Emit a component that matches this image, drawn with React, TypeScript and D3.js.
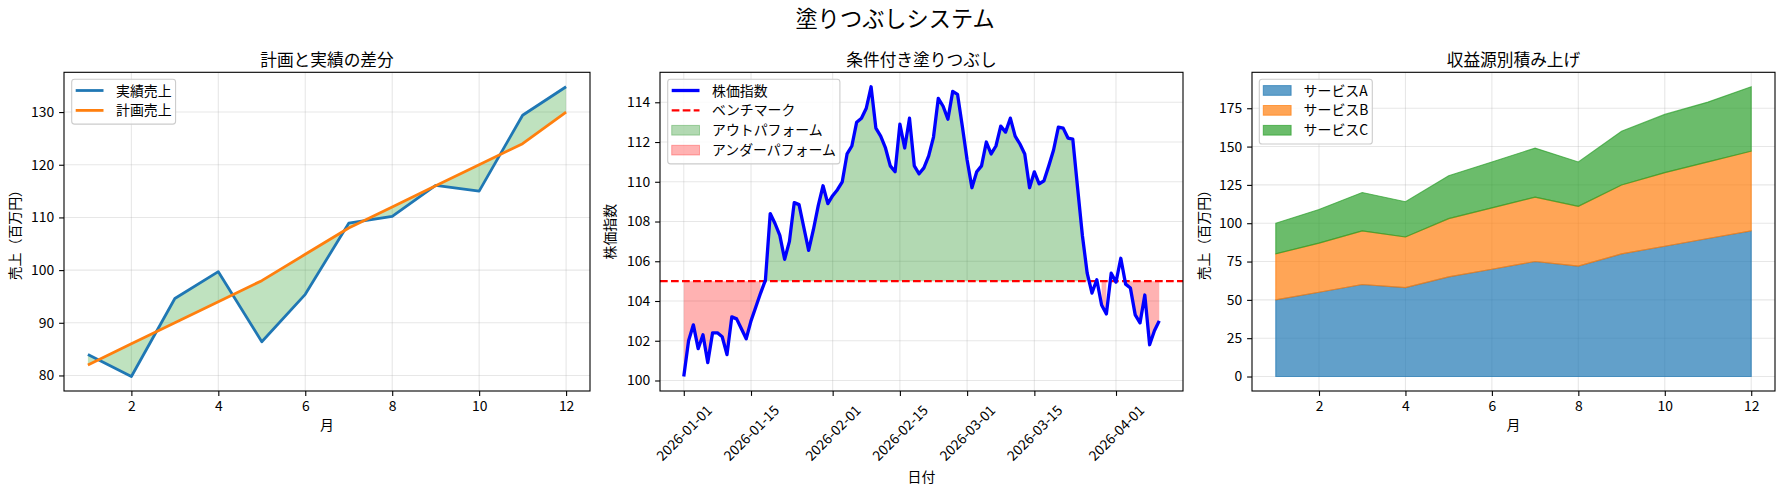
'use client'

import { useEffect, useRef } from 'react'
import * as d3 from 'd3'

// left: plan vs actual
const months = [1, 2, 3, 4, 5, 6, 7, 8, 9, 10, 11, 12]
const actualSales = [84.0, 79.8, 94.6, 99.7, 86.4, 95.4, 108.9, 110.2, 116.1, 115.0, 129.4, 134.8]
const plannedSales = [82, 86, 90, 94, 98, 103, 108, 112, 116, 120, 124, 130]
const salesTicks = [80, 90, 100, 110, 120, 130]
const monthTicks = [2, 4, 6, 8, 10, 12]

// middle: conditional fill
const startDate = '2026-01-01'
const benchmark = 105
const stockIndex = [
  100.2, 102.0, 102.8, 101.6, 102.3, 100.9, 102.4, 102.4, 102.2, 101.3,
  103.2, 103.1, 102.6, 102.1, 103.0, 103.7, 104.4, 105.05, 108.4, 107.9,
  107.3, 106.1, 107.0, 108.95, 108.85, 107.7, 106.55, 107.6, 108.8, 109.8,
  108.9, 109.3, 109.6, 110.0, 111.4, 111.8, 113.0, 113.2, 113.7, 114.78,
  112.7, 112.3, 111.7, 110.8, 110.5, 112.9, 111.7, 113.2, 110.8, 110.4,
  110.7, 111.3, 112.25, 114.2, 113.8, 113.15, 114.55, 114.4, 112.8, 111.1,
  109.7, 110.5, 110.8, 112.0, 111.4, 111.8, 112.8, 112.5, 113.2, 112.3,
  111.9, 111.4, 109.7, 110.5, 109.9, 110.05, 110.8, 111.6, 112.75, 112.7,
  112.2, 112.15, 109.7, 107.3, 105.4, 104.4, 105.07, 103.8, 103.35, 105.4,
  104.95, 106.15, 104.85, 104.65, 103.3, 102.9, 104.3, 101.8, 102.5, 103.0,
]
const indexTicks = [100, 102, 104, 106, 108, 110, 112, 114]
const dateTicks = ['2026-01-01', '2026-01-15', '2026-02-01', '2026-02-15', '2026-03-01', '2026-03-15', '2026-04-01']

// right: stacked revenue
const serviceA = [50, 55, 60, 58, 65, 70, 75, 72, 80, 85, 90, 95]
const serviceB = [30, 32, 35, 33, 38, 40, 42, 39, 45, 48, 50, 52]
const serviceC = [20, 22, 25, 23, 28, 30, 32, 29, 35, 38, 39, 42]
const stackTicks = [0, 25, 50, 75, 100, 125, 150, 175]

const FONT = '"Noto Sans CJK JP", "DejaVu Sans", sans-serif'
const TOP = 72.3
const BOTTOM = 391
const FS = 13.9

const pad = (lo: number, hi: number): [number, number] => {
  const r = hi - lo
  return [lo - 0.05 * r, hi + 0.05 * r]
}

export default function App() {
  const svgRef = useRef<SVGSVGElement>(null)

  useEffect(() => {
    if (!svgRef.current) return
    const svg = d3.select(svgRef.current)
    svg.selectAll('*').remove()

    svg.append('rect').attr('width', 1790).attr('height', 495).attr('fill', '#fff')

    svg.append('text')
      .attr('x', 895).attr('y', 27)
      .attr('text-anchor', 'middle')
      .attr('font-family', FONT).attr('font-size', 22.2)
      .text('塗りつぶしシステム')

    const gridAndFrame = (g: any, x0: number, x1: number, xs: number[], ys: number[]) => {
      const grid = g.append('g').attr('stroke', '#b0b0b0').attr('stroke-opacity', 0.3).attr('stroke-width', 1.1)
      xs.forEach((x) => grid.append('line').attr('x1', x).attr('x2', x).attr('y1', TOP).attr('y2', BOTTOM))
      ys.forEach((y) => grid.append('line').attr('x1', x0).attr('x2', x1).attr('y1', y).attr('y2', y))
    }

    const spines = (g: any, x0: number, x1: number) => {
      g.append('rect')
        .attr('x', x0).attr('y', TOP)
        .attr('width', x1 - x0).attr('height', BOTTOM - TOP)
        .attr('fill', 'none').attr('stroke', '#000').attr('stroke-width', 1.1)
    }

    const styleAxis = (a: any) => {
      a.select('.domain').remove()
      a.selectAll('line').attr('stroke', '#000').attr('stroke-width', 1.1)
      a.selectAll('text').attr('font-family', FONT).attr('font-size', FS).attr('fill', '#000')
      a.attr('font-family', null).attr('font-size', null)
    }

    const titles = (g: any, x0: number, x1: number, title: string, xlabel: string, xlabelY: number, ylabel: string, ylabelX: number) => {
      g.append('text')
        .attr('x', (x0 + x1) / 2).attr('y', 65.5)
        .attr('text-anchor', 'middle')
        .attr('font-family', FONT).attr('font-size', 16.7)
        .text(title)
      g.append('text')
        .attr('x', (x0 + x1) / 2).attr('y', xlabelY)
        .attr('text-anchor', 'middle')
        .attr('font-family', FONT).attr('font-size', FS)
        .text(xlabel)
      g.append('text')
        .attr('transform', `translate(${ylabelX},${(TOP + BOTTOM) / 2}) rotate(-90)`)
        .attr('text-anchor', 'middle')
        .attr('font-family', FONT).attr('font-size', FS)
        .text(ylabel)
    }

    type Item = { label: string; kind: 'line' | 'dash' | 'patch'; color: string; opacity: number; width?: number }
    const legend = (g: any, x: number, y: number, items: Item[]) => {
      const lg = g.append('g')
      const frame = lg.append('rect')
      const textX = x + 44.3
      let maxW = 0
      items.forEach((it, i) => {
        const cy = y + 11.2 + i * 19.9
        if (it.kind === 'patch') {
          lg.append('rect')
            .attr('x', x + 4).attr('y', cy - 4.9)
            .attr('width', 27.8).attr('height', 9.7)
            .attr('fill', it.color).attr('fill-opacity', it.opacity)
            .attr('stroke', it.color).attr('stroke-opacity', it.opacity)
        } else {
          lg.append('line')
            .attr('x1', x + 4).attr('x2', x + 31.8).attr('y1', cy).attr('y2', cy)
            .attr('stroke', it.color).attr('stroke-width', it.width ?? 2.78)
            .attr('stroke-dasharray', it.kind === 'dash' ? '7.7,3.3' : null)
        }
        const t = lg.append('text')
          .attr('x', textX).attr('y', cy + 5)
          .attr('font-family', FONT).attr('font-size', FS)
          .text(it.label)
        maxW = Math.max(maxW, (t.node() as SVGTextElement).getComputedTextLength())
      })
      frame
        .attr('x', x).attr('y', y)
        .attr('width', textX + maxW + 4 - x)
        .attr('height', items.length * 19.9 + 5)
        .attr('rx', 2.8)
        .attr('fill', '#fff').attr('fill-opacity', 0.8)
        .attr('stroke', '#cccccc').attr('stroke-width', 1.1)
    }

    // ---------- left panel ----------
    {
      const L = 64, R = 590
      const g = svg.append('g')
      const x = d3.scaleLinear().domain(pad(1, 12)).range([L, R])
      const [ylo, yhi] = d3.extent([...actualSales, ...plannedSales]) as [number, number]
      const y = d3.scaleLinear().domain(pad(ylo, yhi)).range([BOTTOM, TOP])

      gridAndFrame(g, L, R, monthTicks.map(x), salesTicks.map(y))

      const area = d3.area<number>()
        .x((_, i) => x(months[i]))
        .y0((_, i) => y(plannedSales[i]))
        .y1((d) => y(d))
      g.append('path').attr('d', area(actualSales)).attr('fill', '#2ca02c').attr('fill-opacity', 0.3)

      const line = d3.line<number>().x((_, i) => x(months[i])).y((d) => y(d))
      g.append('path').attr('d', line(actualSales)).attr('fill', 'none')
        .attr('stroke', '#1f77b4').attr('stroke-width', 2.78).attr('stroke-linejoin', 'round')
      g.append('path').attr('d', line(plannedSales)).attr('fill', 'none')
        .attr('stroke', '#ff7f0e').attr('stroke-width', 2.78).attr('stroke-linejoin', 'round')

      spines(g, L, R)
      const ax = g.append('g').attr('transform', `translate(0,${BOTTOM})`)
        .call(d3.axisBottom(x).tickValues(monthTicks).tickSize(4.9).tickPadding(4.9).tickFormat(d3.format('d')))
      styleAxis(ax)
      const ay = g.append('g').attr('transform', `translate(${L},0)`)
        .call(d3.axisLeft(y).tickValues(salesTicks).tickSize(4.9).tickPadding(4.9).tickFormat(d3.format('d')))
      styleAxis(ay)

      titles(g, L, R, '計画と実績の差分', '月', 430, '売上（百万円）', 20.3)
      legend(g, L + 7.7, TOP + 7, [
        { label: '実績売上', kind: 'line', color: '#1f77b4', opacity: 1 },
        { label: '計画売上', kind: 'line', color: '#ff7f0e', opacity: 1 },
      ])
    }

    // ---------- middle panel ----------
    {
      const L = 660, R = 1183
      const g = svg.append('g')
      const parse = d3.utcParse('%Y-%m-%d')
      const start = parse(startDate) as Date
      const dates = stockIndex.map((_, i) => d3.utcDay.offset(start, i))
      const t0 = +dates[0], t1 = +dates[dates.length - 1]
      const [d0, d1] = pad(t0, t1)
      const x = d3.scaleUtc().domain([new Date(d0), new Date(d1)]).range([L, R])
      const [ylo, yhi] = d3.extent(stockIndex) as [number, number]
      const y = d3.scaleLinear().domain(pad(ylo, yhi)).range([BOTTOM, TOP])
      const tickDates = dateTicks.map((s) => parse(s) as Date)

      gridAndFrame(g, L, R, tickDates.map(x), indexTicks.map(y))

      const runs = (pred: (v: number) => boolean) => {
        const out: number[][] = []
        let cur: number[] = []
        stockIndex.forEach((v, i) => {
          if (pred(v)) cur.push(i)
          else {
            if (cur.length) out.push(cur)
            cur = []
          }
        })
        if (cur.length) out.push(cur)
        return out
      }
      const area = d3.area<number>()
        .x((i) => x(dates[i]))
        .y0(() => y(benchmark))
        .y1((i) => y(stockIndex[i]))
      runs((v) => v >= benchmark).forEach((r) => {
        g.append('path').attr('d', area(r)).attr('fill', 'green').attr('fill-opacity', 0.3)
      })
      runs((v) => v < benchmark).forEach((r) => {
        g.append('path').attr('d', area(r)).attr('fill', 'red').attr('fill-opacity', 0.3)
      })

      g.append('line')
        .attr('x1', L).attr('x2', R).attr('y1', y(benchmark)).attr('y2', y(benchmark))
        .attr('stroke', 'red').attr('stroke-width', 2.08).attr('stroke-dasharray', '7.7,3.3')

      const line = d3.line<number>().x((_, i) => x(dates[i])).y((d) => y(d))
      g.append('path').attr('d', line(stockIndex)).attr('fill', 'none')
        .attr('stroke', 'blue').attr('stroke-width', 3.3).attr('stroke-linejoin', 'round')

      spines(g, L, R)
      const ax = g.append('g').attr('transform', `translate(0,${BOTTOM})`)
        .call(d3.axisBottom(x).tickValues(tickDates).tickSize(4.9).tickFormat((d: any) => d3.utcFormat('%Y-%m-%d')(d)))
      styleAxis(ax)
      ax.selectAll('text')
        .attr('y', null).attr('dy', '0.35em')
        .attr('text-anchor', 'middle')
        .attr('transform', 'translate(0,42) rotate(-45)')
      const ay = g.append('g').attr('transform', `translate(${L},0)`)
        .call(d3.axisLeft(y).tickValues(indexTicks).tickSize(4.9).tickPadding(4.9).tickFormat(d3.format('d')))
      styleAxis(ay)

      titles(g, L, R, '条件付き塗りつぶし', '日付', 482, '株価指数', 615.3)
      legend(g, L + 7.7, TOP + 7, [
        { label: '株価指数', kind: 'line', color: 'blue', opacity: 1, width: 3.3 },
        { label: 'ベンチマーク', kind: 'dash', color: 'red', opacity: 1, width: 2.08 },
        { label: 'アウトパフォーム', kind: 'patch', color: 'green', opacity: 0.3 },
        { label: 'アンダーパフォーム', kind: 'patch', color: 'red', opacity: 0.3 },
      ])
    }

    // ---------- right panel ----------
    {
      const L = 1252, R = 1775
      const g = svg.append('g')
      const rows = months.map((m, i) => ({ m, A: serviceA[i], B: serviceB[i], C: serviceC[i] }))
      const stack = d3.stack<any>().keys(['A', 'B', 'C'])(rows)
      const x = d3.scaleLinear().domain(pad(1, 12)).range([L, R])
      const top = d3.max(stack[stack.length - 1], (d) => d[1]) as number
      const y = d3.scaleLinear().domain(pad(0, top)).range([BOTTOM, TOP])

      gridAndFrame(g, L, R, monthTicks.map(x), stackTicks.map(y))

      const colors = ['#1f77b4', '#ff7f0e', '#2ca02c']
      const area = d3.area<any>().x((d) => x(d.data.m)).y0((d) => y(d[0])).y1((d) => y(d[1]))
      stack.forEach((s, i) => {
        g.append('path').attr('d', area(s))
          .attr('fill', colors[i]).attr('fill-opacity', 0.7)
          .attr('stroke', colors[i]).attr('stroke-opacity', 0.7).attr('stroke-width', 1.1)
      })

      spines(g, L, R)
      const ax = g.append('g').attr('transform', `translate(0,${BOTTOM})`)
        .call(d3.axisBottom(x).tickValues(monthTicks).tickSize(4.9).tickPadding(4.9).tickFormat(d3.format('d')))
      styleAxis(ax)
      const ay = g.append('g').attr('transform', `translate(${L},0)`)
        .call(d3.axisLeft(y).tickValues(stackTicks).tickSize(4.9).tickPadding(4.9).tickFormat(d3.format('d')))
      styleAxis(ay)

      titles(g, L, R, '収益源別積み上げ', '月', 430, '売上（百万円）', 1208.6)
      legend(g, L + 7.3, TOP + 7, [
        { label: 'サービスA', kind: 'patch', color: colors[0], opacity: 0.7 },
        { label: 'サービスB', kind: 'patch', color: colors[1], opacity: 0.7 },
        { label: 'サービスC', kind: 'patch', color: colors[2], opacity: 0.7 },
      ])
    }
  }, [])

  return (
    <svg
      ref={svgRef}
      width={1790}
      height={495}
      viewBox="0 0 1790 495"
      style={{ position: 'absolute', left: 0, top: 0 }}
    />
  )
}
